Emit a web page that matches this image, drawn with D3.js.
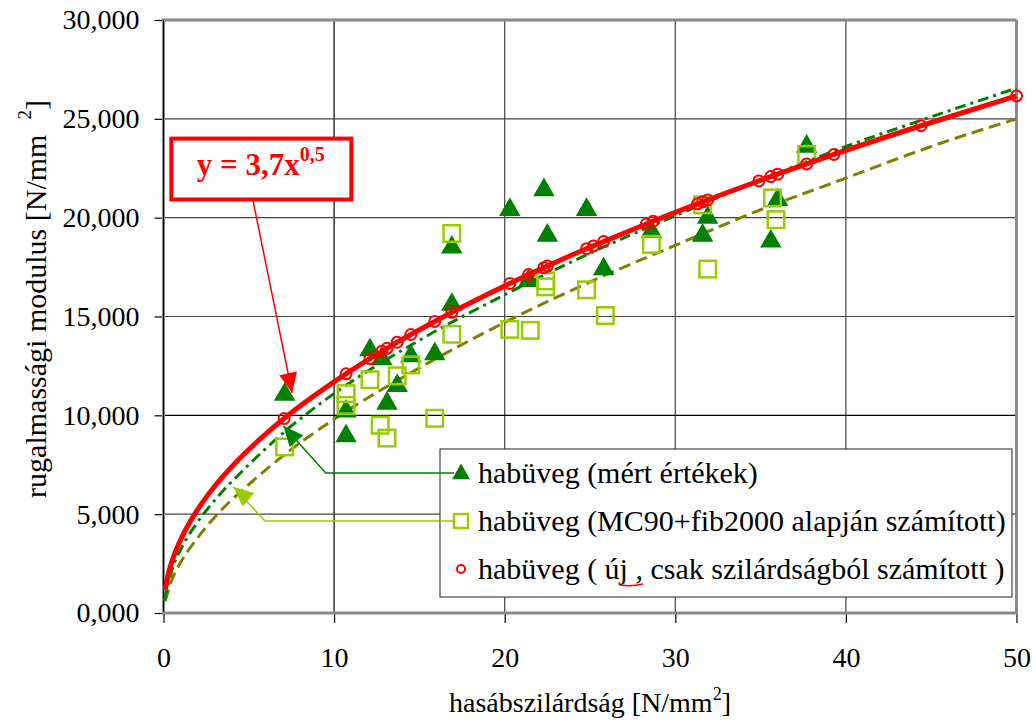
<!DOCTYPE html>
<html><head><meta charset="utf-8">
<script src="https://cdn.jsdelivr.net/npm/d3@7"></script>
<style>
body{margin:0;background:#fff}
svg{display:block}
text{font-family:"Liberation Serif","Times New Roman",serif;fill:#000}
</style>
</head><body><svg id="c" width="1036" height="724"></svg>
<script>
// ---------- data ----------
const xTicks = [0, 10, 20, 30, 40, 50];
const yTicks = [0, 5, 10, 15, 20, 25, 30];
const yTickLabels = ["0,000", "5,000", "10,000", "15,000", "20,000", "25,000", "30,000"];

const legendLabels = [
  "habüveg (mért értékek)",
  "habüveg (MC90+fib2000 alapján számított)",
  "habüveg ( új , csak szilárdságból számított )"
];

// measured (green triangles)
const measuredX = [7.1, 10.7, 10.7, 12.1, 12.8, 13.1, 13.7, 14.5, 15.9, 16.9, 16.9, 20.3, 21.4, 22.3, 22.5, 24.8, 25.8, 28.6, 31.6, 31.9, 35.6, 36.0, 37.7];
const measuredY = [11.05, 10.2, 8.95, 13.3, 12.85, 10.6, 11.5, 13.0, 13.1, 15.6, 18.5, 20.4, 16.8, 21.4, 19.1, 20.4, 17.4, 19.3, 19.1, 20.0, 18.8, 20.9, 23.6];

// MC90+fib2000 (lime squares)
const mc90X = [7.1, 10.7, 10.7, 12.1, 12.7, 13.1, 13.7, 14.5, 15.9, 16.9, 16.9, 20.3, 21.5, 22.4, 22.4, 24.8, 25.9, 28.6, 31.6, 31.9, 35.7, 35.9, 37.7];
const mc90Y = [8.4, 11.1, 10.5, 11.8, 9.5, 8.85, 12.0, 12.55, 9.85, 14.1, 19.2, 14.35, 14.3, 16.8, 16.5, 16.35, 15.05, 18.65, 20.65, 17.4, 21.0, 19.9, 23.2];

// new (red circles)
const newX = [7.07, 10.7, 12.1, 12.8, 13.1, 13.7, 14.5, 15.9, 16.9, 20.3, 21.4, 22.3, 22.5, 24.8, 25.2, 25.8, 28.3, 28.7, 31.3, 31.6, 31.9, 34.9, 35.6, 36.0, 37.7, 39.3, 44.4, 50];
const newY = [9.84, 12.10, 12.87, 13.24, 13.39, 13.70, 14.09, 14.75, 15.21, 16.67, 17.12, 17.47, 17.55, 18.43, 18.57, 18.79, 19.68, 19.82, 20.70, 20.80, 20.90, 21.86, 22.08, 22.20, 22.72, 23.20, 24.65, 26.16];

// red curve before first circle
const newLeadX = [0.1, 0.3, 0.6, 1, 1.5, 2, 3, 4, 5, 6];
const newLeadY = [1.17, 2.03, 2.87, 3.7, 4.53, 5.23, 6.41, 7.4, 8.27, 9.06];

// trend curves
const greenTrendX = [0.05, 0.5, 1, 2, 3, 5, 7, 10, 15, 20, 25, 30, 35, 40, 45, 50];
const greenTrendY = [0.6, 2.2, 3.2, 4.6, 5.7, 7.5, 9.1, 11.1, 13.8, 16.1, 18.2, 20.1, 21.9, 23.6, 25.1, 26.55];
const oliveTrendX = [0.1, 0.5, 1, 2, 3, 5, 7, 10, 15, 20, 25, 30, 35, 40, 45, 50];
const oliveTrendY = [0.6, 1.7, 2.55, 3.8, 4.85, 6.5, 7.95, 9.8, 12.4, 14.7, 16.75, 18.6, 20.4, 22.0, 23.6, 25.0];

// ---------- setup ----------
const svg = d3.select("#c");
const x = d3.scaleLinear().domain([0, 50]).range([163.5, 1016.5]);
const y = d3.scaleLinear().domain([0, 30]).range([613, 20]);
const GREEN = "#008000", LIME = "#99CC00", OLIVE = "#808000", RED = "#FF0000";

// grid
const grid = svg.append("g");
grid.selectAll(".vg").data(xTicks.filter(d => d > 0 && d < 50)).enter().append("line")
  .attr("x1", d => x(d)).attr("x2", d => x(d)).attr("y1", y(30)).attr("y2", y(0))
  .attr("stroke", d => d === 10 ? "#000" : "#444").attr("stroke-width", 1.2);
grid.selectAll(".hg").data(yTicks.filter(d => d > 0 && d < 30)).enter().append("line")
  .attr("x1", x(0)).attr("x2", x(50)).attr("y1", d => y(d)).attr("y2", d => y(d))
  .attr("stroke", d => d === 10 ? "#000" : "#444").attr("stroke-width", 1.2);

// frame
svg.append("line").attr("x1", x(0)).attr("x2", x(50)).attr("y1", y(30)).attr("y2", y(30)).attr("stroke", "#8a8a8a").attr("stroke-width", 3);
svg.append("line").attr("x1", x(50)).attr("x2", x(50)).attr("y1", y(30)).attr("y2", y(0)).attr("stroke", "#8a8a8a").attr("stroke-width", 3);

// axes
const yAxis = svg.append("g").attr("transform", `translate(${x(0)},0)`)
  .call(d3.axisLeft(y).tickValues(yTicks).tickFormat((d, i) => yTickLabels[i]).tickSize(9).tickPadding(15));
const xAxis = svg.append("g").attr("transform", `translate(0,${y(0)})`)
  .call(d3.axisBottom(x).tickValues(xTicks).tickFormat(d => d).tickSize(10).tickPadding(24));
[yAxis, xAxis].forEach(a => {
  a.select(".domain").remove();
  a.selectAll(".tick line").attr("stroke", "#000").attr("stroke-width", 1.2);
  a.selectAll("text").attr("font-size", 28).attr("font-family", "Liberation Serif, Times New Roman, serif").attr("fill", "#000");
});
svg.append("line").attr("x1", x(0)).attr("x2", x(0)).attr("y1", y(30) - 1.5).attr("y2", y(0) + 1.5).attr("stroke", "#8a8a8a").attr("stroke-width", 3);
svg.append("line").attr("x1", x(0)).attr("x2", x(0)).attr("y1", y(30)).attr("y2", y(0)).attr("stroke", "#000").attr("stroke-width", 1);
svg.append("line").attr("x1", x(0) - 1.5).attr("x2", x(50) + 1.5).attr("y1", y(0)).attr("y2", y(0)).attr("stroke", "#8a8a8a").attr("stroke-width", 3);

// axis titles
const xt = svg.append("text").attr("x", (x(0) + x(50)) / 2).attr("y", 712).attr("text-anchor", "middle").attr("font-size", 28);
xt.append("tspan").text("hasábszilárdság [N/mm");
xt.append("tspan").attr("font-size", 18).attr("dy", -12).text("2");
xt.append("tspan").attr("dy", 12).text("]");

const yt = svg.append("text").attr("transform", "translate(46,299) rotate(-90)").attr("text-anchor", "middle").attr("font-size", 30);
yt.append("tspan").text("rugalmassági modulus [N/mm\u00A0\u00A0");
yt.append("tspan").attr("font-size", 19).attr("dy", -15).text("2");
yt.append("tspan").attr("dy", 15).text("]");

// trend curves
const line = d3.line().x(d => x(d[0])).y(d => y(d[1])).curve(d3.curveMonotoneX);
svg.append("path").datum(oliveTrendX.map((v, i) => [v, oliveTrendY[i]]))
  .attr("d", line).attr("fill", "none").attr("stroke", OLIVE).attr("stroke-width", 3).attr("stroke-dasharray", "12,6");
svg.append("path").datum(greenTrendX.map((v, i) => [v, greenTrendY[i]]))
  .attr("d", line).attr("fill", "none").attr("stroke", GREEN).attr("stroke-width", 3).attr("stroke-dasharray", "11,5,3,5");

// triangles
const tri = d3.symbol().type(d3.symbolTriangle).size(200);
svg.append("g").selectAll("path").data(measuredX.map((v, i) => [v, measuredY[i]])).enter().append("path")
  .attr("d", tri).attr("transform", d => `translate(${x(d[0])},${y(d[1])})`).attr("fill", GREEN);

// squares
const sq = 16.5;
svg.append("g").selectAll("rect").data(mc90X.map((v, i) => [v, mc90Y[i]])).enter().append("rect")
  .attr("x", d => x(d[0]) - sq / 2).attr("y", d => y(d[1]) - sq / 2).attr("width", sq).attr("height", sq)
  .attr("fill", "none").attr("stroke", LIME).attr("stroke-width", 2.5);

// red line + circles
const redPts = newLeadX.map((v, i) => [v, newLeadY[i]]).concat(newX.map((v, i) => [v, newY[i]]));
svg.append("path").datum(redPts).attr("d", line).attr("fill", "none").attr("stroke", RED).attr("stroke-width", 5).attr("stroke-linejoin", "round");
svg.append("g").selectAll("circle").data(newX.map((v, i) => [v, newY[i]])).enter().append("circle")
  .attr("cx", d => x(d[0])).attr("cy", d => y(d[1])).attr("r", 5.5).attr("fill", "none").attr("stroke", RED).attr("stroke-width", 2);

// ---------- annotations ----------
function arrowHead(g, tip, from, color, len, wid) {
  const dx = tip[0] - from[0], dy = tip[1] - from[1], L = Math.hypot(dx, dy);
  const ux = dx / L, uy = dy / L;
  const bx = tip[0] - ux * len, by = tip[1] - uy * len;
  g.append("path").attr("d", `M${tip[0]},${tip[1]}L${bx - uy * wid / 2},${by + ux * wid / 2}L${bx + uy * wid / 2},${by - ux * wid / 2}Z`).attr("fill", color);
}
const ann = svg.append("g");
// callout box
const boxX0 = 0.46, boxX1 = 11.01, boxYTop = 24.0, boxYBot = 20.92;
ann.append("rect").attr("x", x(boxX0)).attr("y", y(boxYTop)).attr("width", x(boxX1) - x(boxX0)).attr("height", y(boxYBot) - y(boxYTop))
  .attr("fill", "#fff").attr("stroke", RED).attr("stroke-width", 4);
const eq = ann.append("text").attr("x", x(1.95)).attr("y", y(22.17)).attr("font-size", 31).attr("font-weight", "bold").style("fill", RED);
eq.append("tspan").text("y = 3,7x");
eq.append("tspan").attr("font-size", 20).attr("dy", -14).text("0,5");
// red arrow
const rs = [x(5.25), y(20.85)], rt = [x(7.54), y(11.13)];
ann.append("line").attr("x1", rs[0]).attr("y1", rs[1]).attr("x2", rt[0]).attr("y2", rt[1]).attr("stroke", RED).attr("stroke-width", 1.5);
arrowHead(ann, rt, rs, RED, 20, 18);

// legend
const lg = svg.append("g");
const lgX = 440, lgY = 449, lgW = 572, lgH = 148, rowY = [473, 521, 569], mkX = 461, txX = 478;
// arrows from legend
const gTip = [x(7.03), y(9.46)], gEl = [x(9.51), y(6.98)];
ann.append("path").attr("d", `M${mkX - 8},${rowY[0]}H${gEl[0]}L${gTip[0]},${gTip[1]}`).attr("fill", "none").attr("stroke", GREEN).attr("stroke-width", 1.5);
arrowHead(ann, gTip, gEl, GREEN, 20, 18);
const lTip = [x(4.09), y(6.39)], lEl = [x(5.95), y(5.01)];
ann.append("path").attr("d", `M${mkX - 8},${rowY[1]}H${lEl[0]}L${lTip[0]},${lTip[1]}`).attr("fill", "none").attr("stroke", LIME).attr("stroke-width", 1.5);
arrowHead(ann, lTip, lEl, LIME, 20, 18);

lg.append("rect").attr("x", lgX).attr("y", lgY).attr("width", lgW).attr("height", lgH).attr("fill", "#fff").attr("stroke", "#444").attr("stroke-width", 1.2);
lg.append("line").attr("x1", lgX).attr("x2", mkX - 7).attr("y1", rowY[0]).attr("y2", rowY[0]).attr("stroke", GREEN).attr("stroke-width", 1.5);
lg.append("line").attr("x1", lgX).attr("x2", mkX - 7).attr("y1", rowY[1]).attr("y2", rowY[1]).attr("stroke", LIME).attr("stroke-width", 1.5);
lg.append("path").attr("d", d3.symbol().type(d3.symbolTriangle).size(140)).attr("transform", `translate(${mkX},${rowY[0] + 1})`).attr("fill", GREEN);
lg.append("rect").attr("x", mkX - 7).attr("y", rowY[1] - 7).attr("width", 14).attr("height", 14).attr("fill", "none").attr("stroke", LIME).attr("stroke-width", 2.5);
lg.append("circle").attr("cx", mkX).attr("cy", rowY[2]).attr("r", 4).attr("fill", "none").attr("stroke", RED).attr("stroke-width", 2);
const lt = lg.selectAll(".lt").data(legendLabels).enter().append("text")
  .attr("x", txX).attr("y", (d, i) => rowY[i] + 10).attr("font-size", 30).text(d => d);
// spell-check squiggle under "j ,"
const t3 = lt.nodes()[2];
const s = legendLabels[2].indexOf("j");
const p0 = t3.getStartPositionOfChar(s), p1 = t3.getEndPositionOfChar(s + 2);
lg.append("path").attr("d", `M${p0.x},${rowY[2] + 16}Q${(p0.x + p1.x) / 2},${rowY[2] + 18} ${p1.x},${rowY[2] + 15}`)
  .attr("fill", "none").attr("stroke", RED).attr("stroke-width", 1.5);
</script>
</body></html>
